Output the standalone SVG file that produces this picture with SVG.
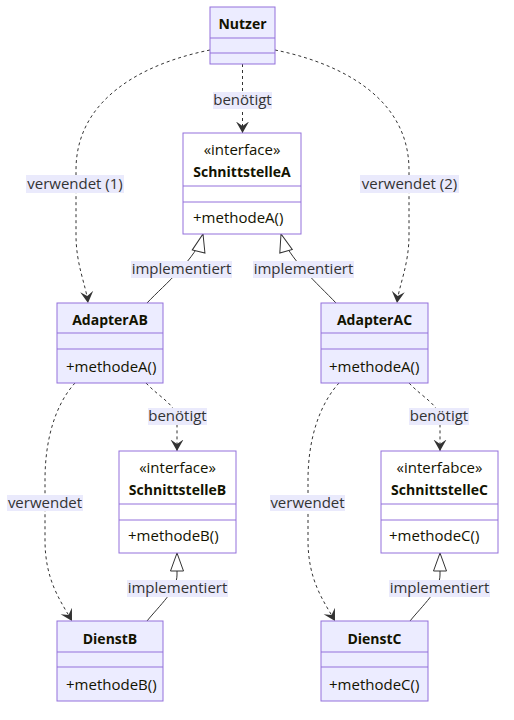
<svg xmlns="http://www.w3.org/2000/svg" width="514" height="720" viewBox="0 0 514 720">
<style>
.box{fill:#ECECFF;stroke:#9370DB;stroke-width:1}
.ibox{fill:#FFFFFF;stroke:#9370DB;stroke-width:1}
.div{stroke:#9370DB;stroke-width:1}
.name{font-family:"Open Sans","DejaVu Sans",sans-serif;font-size:14px;font-weight:bold;fill:#131300;text-anchor:middle}
.ster{font-family:"Open Sans","DejaVu Sans",sans-serif;font-size:15px;fill:#131300;text-anchor:middle}
.mem{font-family:"Open Sans","DejaVu Sans",sans-serif;font-size:15px;fill:#131300}
.dash{fill:none;stroke:#333;stroke-width:1;stroke-dasharray:3,3}
.solid{fill:none;stroke:#333;stroke-width:1}
.lbg{fill:#EAEAFC}
.ltxt{font-family:"Open Sans","DejaVu Sans",sans-serif;font-size:15px;fill:#333;text-anchor:middle}
</style>
<defs>
<marker id="dep" viewBox="0 -7 12 14" refX="11.5" refY="0" markerWidth="12" markerHeight="14" orient="auto" markerUnits="userSpaceOnUse">
<path d="M0,-6.5 L11.5,0 L0,6.5 L4.5,0 Z" fill="#333"/>
</marker>
<marker id="tri" viewBox="0 -8 20 16" refX="19" refY="0" markerWidth="20" markerHeight="16" orient="auto" markerUnits="userSpaceOnUse">
<path d="M1,-6.5 L19,0 L1,6.5 Z" fill="#FFFFFF" stroke="#333" stroke-width="1"/>
</marker>
</defs>
<rect width="514" height="720" fill="#FFFFFF"/>

<g id="connectors">
<path class="dash" d="M242.5,64 L242.5,133" marker-end="url(#dep)"/>
<path class="dash" d="M210,50 C150,62 76,95 76,170 L76,235 C76,265 86,285 88,303" marker-end="url(#dep)"/>
<path class="dash" d="M275,50 C335,62 409,95 409,170 L409,235 C409,265 399,285 397,303" marker-end="url(#dep)"/>
<path class="solid" d="M147,303 C165,284 197,258 203,234" marker-end="url(#tri)"/>
<path class="solid" d="M336,303 C318,284 288,258 281,234" marker-end="url(#tri)"/>
<path class="dash" d="M146,383 C160,398 177,405 177,420 L177,451" marker-end="url(#dep)"/>
<path class="dash" d="M75,383 C55,405 45,440 45,480 L45,540 C45,580 60,600 72,621" marker-end="url(#dep)"/>
<path class="dash" d="M409,383 C423,398 440,405 440,420 L440,451" marker-end="url(#dep)"/>
<path class="dash" d="M339,383 C319,405 308,440 308,480 L308,540 C308,580 323,600 335,621" marker-end="url(#dep)"/>
<path class="solid" d="M147,621 C160,605 177,590 177,575 L177,553" marker-end="url(#tri)"/>
<path class="solid" d="M410,621 C423,605 440,590 440,575 L440,553" marker-end="url(#tri)"/>

<rect class="lbg" x="213" y="92" width="59" height="17"/>
<text class="ltxt" x="242.5" y="105">benötigt</text>
<rect class="lbg" x="26" y="175" width="98" height="18"/>
<text class="ltxt" x="75" y="189">verwendet (1)</text>
<rect class="lbg" x="360" y="175" width="99" height="18"/>
<text class="ltxt" x="409.5" y="189">verwendet (2)</text>
<rect class="lbg" x="131" y="261" width="101" height="17"/>
<text class="ltxt" x="181.5" y="274">implementiert</text>
<rect class="lbg" x="253" y="261" width="101" height="17"/>
<text class="ltxt" x="303.5" y="274">implementiert</text>
<rect class="lbg" x="148" y="408" width="59" height="17"/>
<text class="ltxt" x="177.5" y="421">benötigt</text>
<rect class="lbg" x="409" y="408" width="60" height="17"/>
<text class="ltxt" x="439" y="421">benötigt</text>
<rect class="lbg" x="7" y="495" width="76" height="16"/>
<text class="ltxt" x="45" y="508">verwendet</text>
<rect class="lbg" x="270" y="495" width="75" height="16"/>
<text class="ltxt" x="307.5" y="508">verwendet</text>
<rect class="lbg" x="127" y="580" width="101" height="17"/>
<text class="ltxt" x="177.5" y="593">implementiert</text>
<rect class="lbg" x="389" y="580" width="101" height="17"/>
<text class="ltxt" x="439.5" y="593">implementiert</text>
</g>

<g id="Nutzer">
<rect class="box" x="210" y="7" width="65" height="57"/>
<line class="div" x1="210" y1="38" x2="275" y2="38"/>
<line class="div" x1="210" y1="53" x2="275" y2="53"/>
<text class="name" x="242.5" y="29">Nutzer</text>
</g>

<g id="SchnittstelleA">
<rect class="ibox" x="183" y="133" width="118" height="101"/>
<line class="div" x1="183" y1="186" x2="301" y2="186"/>
<line class="div" x1="183" y1="202" x2="301" y2="202"/>
<text class="ster" x="242" y="155">«interface»</text>
<text class="name" x="242" y="177">SchnittstelleA</text>
<text class="mem" x="193" y="223">+methodeA()</text>
</g>

<g id="AdapterAB">
<rect class="box" x="57" y="303" width="106" height="80"/>
<line class="div" x1="57" y1="333" x2="163" y2="333"/>
<line class="div" x1="57" y1="349" x2="163" y2="349"/>
<text class="name" x="110" y="325">AdapterAB</text>
<text class="mem" x="66" y="372">+methodeA()</text>
</g>

<g id="AdapterAC">
<rect class="box" x="321" y="303" width="107" height="80"/>
<line class="div" x1="321" y1="333" x2="428" y2="333"/>
<line class="div" x1="321" y1="349" x2="428" y2="349"/>
<text class="name" x="374.5" y="325">AdapterAC</text>
<text class="mem" x="329" y="372">+methodeA()</text>
</g>

<g id="SchnittstelleB">
<rect class="ibox" x="119" y="451" width="117" height="102"/>
<line class="div" x1="119" y1="504" x2="236" y2="504"/>
<line class="div" x1="119" y1="520" x2="236" y2="520"/>
<text class="ster" x="177.5" y="473">«interface»</text>
<text class="name" x="177.5" y="495">SchnittstelleB</text>
<text class="mem" x="128" y="541">+methodeB()</text>
</g>

<g id="SchnittstelleC">
<rect class="ibox" x="381" y="451" width="117" height="102"/>
<line class="div" x1="381" y1="504" x2="498" y2="504"/>
<line class="div" x1="381" y1="520" x2="498" y2="520"/>
<text class="ster" x="439.5" y="473">«interfabce»</text>
<text class="name" x="439.5" y="495">SchnittstelleC</text>
<text class="mem" x="389" y="541">+methodeC()</text>
</g>

<g id="DienstB">
<rect class="box" x="57" y="621" width="106" height="80"/>
<line class="div" x1="57" y1="652" x2="163" y2="652"/>
<line class="div" x1="57" y1="667" x2="163" y2="667"/>
<text class="name" x="110" y="644">DienstB</text>
<text class="mem" x="66" y="690">+methodeB()</text>
</g>

<g id="DienstC">
<rect class="box" x="321" y="621" width="107" height="80"/>
<line class="div" x1="321" y1="652" x2="428" y2="652"/>
<line class="div" x1="321" y1="667" x2="428" y2="667"/>
<text class="name" x="374.5" y="644">DienstC</text>
<text class="mem" x="329" y="690">+methodeC()</text>
</g>
</svg>
